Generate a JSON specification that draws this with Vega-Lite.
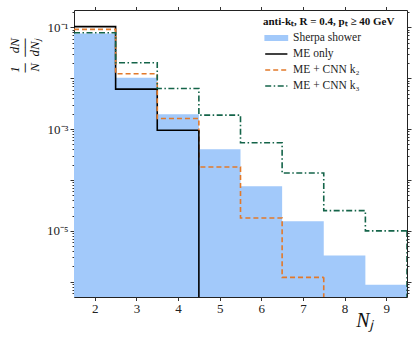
{
  "$schema": "https://vega.github.io/schema/vega-lite/v6.json",
  "width": 333,
  "height": 287,
  "autosize": {"type": "none"},
  "padding": {"left": 74, "top": 10, "right": 8, "bottom": 45},
  "background": "white",
  "datasets": {
    "shower": [
      {"series": "Sherpa shower", "lo": 1.5, "hi": 2.5, "v": 0.076},
      {"series": "Sherpa shower", "lo": 2.5, "hi": 3.5, "v": 0.0102},
      {"series": "Sherpa shower", "lo": 3.5, "hi": 4.5, "v": 0.00196},
      {"series": "Sherpa shower", "lo": 4.5, "hi": 5.5, "v": 0.0004},
      {"series": "Sherpa shower", "lo": 5.5, "hi": 6.5, "v": 7.5e-5},
      {"series": "Sherpa shower", "lo": 6.5, "hi": 7.5, "v": 1.54e-5},
      {"series": "Sherpa shower", "lo": 7.5, "hi": 8.5, "v": 3.3e-6},
      {"series": "Sherpa shower", "lo": 8.5, "hi": 9.5, "v": 8.7e-7}
    ],
    "steps": [
      {"series": "ME only", "lo": 1.5, "hi": 2.5, "v": 0.103},
      {"series": "ME only", "lo": 2.5, "hi": 3.5, "v": 0.0061},
      {"series": "ME only", "lo": 3.5, "hi": 4.5, "v": 0.00095},
      {"series": "ME + CNN k₂", "lo": 1.5, "hi": 2.5, "v": 0.091},
      {"series": "ME + CNN k₂", "lo": 2.5, "hi": 3.5, "v": 0.0122},
      {"series": "ME + CNN k₂", "lo": 3.5, "hi": 4.5, "v": 0.00162},
      {"series": "ME + CNN k₂", "lo": 4.5, "hi": 5.5, "v": 0.00018},
      {"series": "ME + CNN k₂", "lo": 5.5, "hi": 6.5, "v": 1.79e-5},
      {"series": "ME + CNN k₂", "lo": 6.5, "hi": 7.5, "v": 1.22e-6},
      {"series": "ME + CNN k₃", "lo": 1.5, "hi": 2.5, "v": 0.078},
      {"series": "ME + CNN k₃", "lo": 2.5, "hi": 3.5, "v": 0.0201},
      {"series": "ME + CNN k₃", "lo": 3.5, "hi": 4.5, "v": 0.0063},
      {"series": "ME + CNN k₃", "lo": 4.5, "hi": 5.5, "v": 0.00188},
      {"series": "ME + CNN k₃", "lo": 5.5, "hi": 6.5, "v": 0.00054},
      {"series": "ME + CNN k₃", "lo": 6.5, "hi": 7.5, "v": 0.000137},
      {"series": "ME + CNN k₃", "lo": 7.5, "hi": 8.5, "v": 2.5e-5},
      {"series": "ME + CNN k₃", "lo": 8.5, "hi": 9.5, "v": 1.0e-5}
    ]
  },
  "resolve": {"axis": {"x": "independent", "y": "independent"}},
  "layer": [
    {
      "data": {"name": "shower"},
      "transform": [{"fold": ["lo", "hi"], "as": ["side", "edge"]}],
      "mark": {"type": "area", "clip": true, "opacity": 1},
      "encoding": {
        "x": {
          "field": "edge", "type": "quantitative",
          "scale": {"domain": [1.5, 9.5], "nice": false, "zero": false},
          "axis": {
            "orient": "bottom", "values": [2, 3, 4, 5, 6, 7, 8, 9], "tickSize": 3.5,
            "labelFontSize": 13, "labelPadding": 2, "labelFlush": false,
            "title": "Nⱼ", "titleFontSize": 20, "titleFontStyle": "italic", "titleFontWeight": "normal",
            "titleX": 290, "titleY": 29, "titleAlign": "center", "titleBaseline": "alphabetic"
          }
        },
        "y": {
          "field": "v", "type": "quantitative",
          "scale": {"type": "log", "domain": [5.02e-7, 0.219], "nice": false},
          "axis": {
            "orient": "left",
            "values": [5e-7, 6e-7, 7e-7, 8e-7, 9e-7, 1e-6, 2e-6, 3e-6, 4e-6, 5e-6, 6e-6, 7e-6, 8e-6, 9e-6, 1e-5, 2e-5, 3e-5, 4e-5, 5e-5, 6e-5, 7e-5, 8e-5, 9e-5, 1e-4, 2e-4, 3e-4, 4e-4, 5e-4, 6e-4, 7e-4, 8e-4, 9e-4, 1e-3, 2e-3, 3e-3, 4e-3, 5e-3, 6e-3, 7e-3, 8e-3, 9e-3, 1e-2, 2e-2, 3e-2, 4e-2, 5e-2, 6e-2, 7e-2, 8e-2, 9e-2, 1e-1, 2e-1],
            "labelExpr": "datum.value === 1e-1 ? '10⁻¹' : datum.value === 1e-3 ? '10⁻³' : datum.value === 1e-5 ? '10⁻⁵' : ''",
            "tickSize": {"condition": {"test": "indexof([1e-6,1e-5,1e-4,1e-3,1e-2,1e-1], datum.value) >= 0", "value": 4}, "value": 2},
            "labelFontSize": 13, "labelPadding": 2, "labelFlush": false, "labelOverlap": false,
            "title": ["1\u2002\u2002dN", "─\u2002──", "N\u2002dNⱼ"],
            "titleFontSize": 13, "titleFontStyle": "italic", "titleFontWeight": "normal", "titleLineHeight": 10,
            "titleX": -60, "titleY": 45, "titleAlign": "center", "titleBaseline": "middle", "titleAngle": -90
          }
        },
        "y2": {"datum": 5.02e-7},
        "order": {"value": null},
        "color": {
          "field": "series", "type": "nominal",
          "scale": {"domain": ["Sherpa shower", "ME only", "ME + CNN k₂", "ME + CNN k₃"], "range": ["#a2c9fa", "#000000", "#e2792a", "#146449"]},
          "legend": {
            "title": "anti-kₜ, R = 0.4, pₜ ≥ 40 GeV",
            "orient": "none", "legendX": 189, "legendY": 6, "padding": 0,
            "titleFont": "Liberation Serif", "titleFontSize": 11, "titleFontWeight": "bold", "titleColor": "#111", "titlePadding": 4, "titleAnchor": "start",
            "labelFont": "Liberation Serif", "labelFontSize": 11.5, "labelColor": "#222", "labelOffset": 16,
            "symbolSize": 144, "rowPadding": 3, "symbolType": "stroke",
            "encode": {"symbols": {"update": {
              "shape": [{"test": "datum.value === 'Sherpa shower'", "value": "M-0.8,-0.38H2.9V0.38H-0.8Z"}, {"value": "M-0.8,0H2.9"}],
              "fill": [{"test": "datum.value === 'Sherpa shower'", "value": "#a2c9fa"}, {"value": "transparent"}],
              "stroke": [{"test": "datum.value === 'Sherpa shower'", "value": "transparent"}, {"test": "datum.value === 'ME only'", "value": "#000000"}, {"test": "datum.value === 'ME + CNN k₂'", "value": "#e2792a"}, {"value": "#146449"}],
              "strokeDash": [{"test": "datum.value === 'ME + CNN k₂'", "value": [5, 3]}, {"test": "datum.value === 'ME + CNN k₃'", "value": [6, 2.5, 1.5, 2.5]}, {"value": [1, 0]}],
              "strokeWidth": {"value": 1.6},
              "opacity": {"value": 1}
            }}}
          }
        }
      }
    },
    {
      "data": {"name": "steps"},
      "transform": [{"fold": ["lo", "hi"], "as": ["side", "edge"]}],
      "mark": {"type": "line", "strokeWidth": 1.6, "clip": true},
      "encoding": {
        "x": {
          "field": "edge", "type": "quantitative",
          "axis": {"orient": "top", "values": [2, 3, 4, 5, 6, 7, 8, 9], "tickSize": 3.5, "labels": false, "title": null}
        },
        "y": {
          "field": "v", "type": "quantitative",
          "axis": {
            "orient": "right", "labels": false, "title": null,
            "values": [5e-7, 6e-7, 7e-7, 8e-7, 9e-7, 1e-6, 2e-6, 3e-6, 4e-6, 5e-6, 6e-6, 7e-6, 8e-6, 9e-6, 1e-5, 2e-5, 3e-5, 4e-5, 5e-5, 6e-5, 7e-5, 8e-5, 9e-5, 1e-4, 2e-4, 3e-4, 4e-4, 5e-4, 6e-4, 7e-4, 8e-4, 9e-4, 1e-3, 2e-3, 3e-3, 4e-3, 5e-3, 6e-3, 7e-3, 8e-3, 9e-3, 1e-2, 2e-2, 3e-2, 4e-2, 5e-2, 6e-2, 7e-2, 8e-2, 9e-2, 1e-1, 2e-1],
            "tickSize": {"condition": {"test": "indexof([1e-6,1e-5,1e-4,1e-3,1e-2,1e-1], datum.value) >= 0", "value": 4}, "value": 2}
          }
        },
        "order": {"value": null},
        "color": {
          "field": "series", "type": "nominal",
          "legend": {
            "title": "anti-kₜ, R = 0.4, pₜ ≥ 40 GeV",
            "orient": "none", "legendX": 189, "legendY": 6, "padding": 0,
            "titleFont": "Liberation Serif", "titleFontSize": 11, "titleFontWeight": "bold", "titleColor": "#111", "titlePadding": 4, "titleAnchor": "start",
            "labelFont": "Liberation Serif", "labelFontSize": 11.5, "labelColor": "#222", "labelOffset": 16,
            "symbolSize": 144, "rowPadding": 3, "symbolType": "stroke",
            "encode": {"symbols": {"update": {
              "shape": [{"test": "datum.value === 'Sherpa shower'", "value": "M-0.8,-0.38H2.9V0.38H-0.8Z"}, {"value": "M-0.8,0H2.9"}],
              "fill": [{"test": "datum.value === 'Sherpa shower'", "value": "#a2c9fa"}, {"value": "transparent"}],
              "stroke": [{"test": "datum.value === 'Sherpa shower'", "value": "transparent"}, {"test": "datum.value === 'ME only'", "value": "#000000"}, {"test": "datum.value === 'ME + CNN k₂'", "value": "#e2792a"}, {"value": "#146449"}],
              "strokeDash": [{"test": "datum.value === 'ME + CNN k₂'", "value": [5, 3]}, {"test": "datum.value === 'ME + CNN k₃'", "value": [6, 2.5, 1.5, 2.5]}, {"value": [1, 0]}],
              "strokeWidth": {"value": 1.6},
              "opacity": {"value": 1}
            }}}
          }
        },
        "strokeDash": {
          "field": "series", "type": "nominal",
          "scale": {"domain": ["ME only", "ME + CNN k₂", "ME + CNN k₃"], "range": [[1, 0], [5, 3], [6, 2.5, 1.5, 2.5]]},
          "legend": null
        }
      }
    },
    {
      "data": {"name": "steps"},
      "transform": [
        {"joinaggregate": [{"op": "max", "field": "hi", "as": "end"}], "groupby": ["series"]},
        {"filter": "datum.hi === datum.end"}
      ],
      "mark": {"type": "rule", "strokeWidth": 1.6, "clip": true},
      "encoding": {
        "x": {"field": "hi", "type": "quantitative", "axis": null},
        "y": {"field": "v", "type": "quantitative", "axis": null},
        "y2": {"datum": 5.02e-7},
        "color": {
          "field": "series", "type": "nominal",
          "legend": {
            "title": "anti-kₜ, R = 0.4, pₜ ≥ 40 GeV",
            "orient": "none", "legendX": 189, "legendY": 6, "padding": 0,
            "titleFont": "Liberation Serif", "titleFontSize": 11, "titleFontWeight": "bold", "titleColor": "#111", "titlePadding": 4, "titleAnchor": "start",
            "labelFont": "Liberation Serif", "labelFontSize": 11.5, "labelColor": "#222", "labelOffset": 16,
            "symbolSize": 144, "rowPadding": 3, "symbolType": "stroke",
            "encode": {"symbols": {"update": {
              "shape": [{"test": "datum.value === 'Sherpa shower'", "value": "M-0.8,-0.38H2.9V0.38H-0.8Z"}, {"value": "M-0.8,0H2.9"}],
              "fill": [{"test": "datum.value === 'Sherpa shower'", "value": "#a2c9fa"}, {"value": "transparent"}],
              "stroke": [{"test": "datum.value === 'Sherpa shower'", "value": "transparent"}, {"test": "datum.value === 'ME only'", "value": "#000000"}, {"test": "datum.value === 'ME + CNN k₂'", "value": "#e2792a"}, {"value": "#146449"}],
              "strokeDash": [{"test": "datum.value === 'ME + CNN k₂'", "value": [5, 3]}, {"test": "datum.value === 'ME + CNN k₃'", "value": [6, 2.5, 1.5, 2.5]}, {"value": [1, 0]}],
              "strokeWidth": {"value": 1.6},
              "opacity": {"value": 1}
            }}}
          }
        },
        "strokeDash": {"field": "series", "type": "nominal", "legend": null}
      }
    }
  ],
  "config": {
    "view": {"stroke": "#222", "strokeWidth": 1},
    "axis": {
      "labelFont": "Liberation Serif", "titleFont": "Liberation Serif",
      "domain": false, "grid": false, "tickColor": "#333", "labelColor": "#222", "titleColor": "#111"
    }
  }
}
